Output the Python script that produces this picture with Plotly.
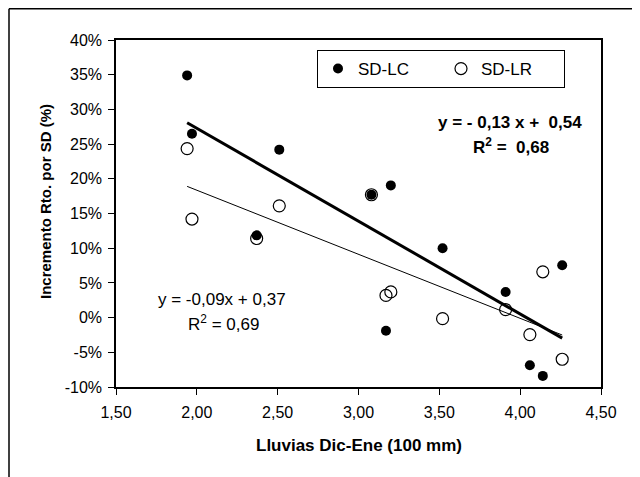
import numpy as np
import plotly.graph_objects as go

# ---- data ----
lluvias = [1.94, 1.97, 2.37, 2.51, 3.08, 3.20, 3.17, 3.52, 3.91, 4.06, 4.14, 4.26]
sd_lc = [0.349, 0.265, 0.1185, 0.242, 0.177, 0.1905, -0.019, 0.100, 0.037, -0.0687, -0.084, 0.0755]
sd_lr = [0.2435, 0.142, 0.114, 0.161, 0.177, 0.037, 0.032, -0.0015, 0.0115, -0.0245, 0.066, -0.060]

x_ticks = [1.5, 2.0, 2.5, 3.0, 3.5, 4.0, 4.5]
x_ticktext = ["1,50", "2,00", "2,50", "3,00", "3,50", "4,00", "4,50"]
y_ticks = [-0.10, -0.05, 0.0, 0.05, 0.10, 0.15, 0.20, 0.25, 0.30, 0.35, 0.40]
y_ticktext = ["-10%", "-5%", "0%", "5%", "10%", "15%", "20%", "25%", "30%", "35%", "40%"]

FONT = "Arial, Liberation Sans, sans-serif"

# page offset of the figure (default body margin of the html page)
OFF = 8
W, H = 640 - OFF, 477 - OFF
# plot-area geometry in page pixels
L, R, T, B = 116, 601, 40, 387
pw, ph = R - L, B - T


def px(x):
    return (x - L) / pw


def py(y):
    return (B - y) / ph


fig = go.Figure()

# open circles (drawn first so the filled ones sit on top)
fig.add_trace(go.Scatter(
    x=lluvias, y=sd_lr, mode="markers", name="SD-LR", legendrank=2,
    marker=dict(symbol="circle", size=12, color="rgba(255,255,255,0)",
                line=dict(color="black", width=1.2)),
))
fig.add_trace(go.Scatter(
    x=lluvias, y=sd_lc, mode="markers", name="SD-LC", legendrank=1,
    marker=dict(symbol="circle", size=10, color="black",
                line=dict(color="black", width=0)),
))

# linear trendlines fitted from the data
xa = np.array(lluvias)
xr = np.array([xa.min(), xa.max()])
m1, b1 = np.polyfit(xa, np.array(sd_lc), 1)
m2, b2 = np.polyfit(xa, np.array(sd_lr), 1)
fig.add_trace(go.Scatter(x=xr, y=m1 * xr + b1, mode="lines", showlegend=False,
                         line=dict(color="black", width=3)))
fig.add_trace(go.Scatter(x=xr, y=m2 * xr + b2, mode="lines", showlegend=False,
                         line=dict(color="black", width=1)))

axis_common = dict(
    showgrid=False, zeroline=False, showline=True, linecolor="black", linewidth=1.5,
    mirror=True, ticks="outside", ticklen=6, tickwidth=1.2, tickcolor="black",
    tickfont=dict(family=FONT, size=16, color="black"),
)
fig.update_xaxes(range=[1.5, 4.5], tickvals=x_ticks, ticktext=x_ticktext,
                 ticklabelstandoff=4, **axis_common)
fig.update_yaxes(range=[-0.10, 0.40], tickvals=y_ticks, ticktext=y_ticktext,
                 ticklabelstandoff=3, **axis_common)

ann = []
ann.append(dict(text="<b>Lluvias Dic-Ene (100 mm)</b>", x=0.5, y=py(445), xref="paper", yref="paper",
                showarrow=False, font=dict(family=FONT, size=17, color="black"),
                xanchor="center", yanchor="middle"))
ann.append(dict(text="<b>Incremento Rto. por SD (%)</b>", x=px(45), y=py(202), xref="paper", yref="paper",
                showarrow=False, textangle=-90, font=dict(family=FONT, size=15, color="black"),
                xanchor="center", yanchor="middle"))
ann.append(dict(text="<b>y = - 0,13 x +  0,54</b>", x=px(509.5), y=py(122), xref="paper", yref="paper",
                showarrow=False, font=dict(family=FONT, size=17, color="black"),
                xanchor="center", yanchor="middle"))
ann.append(dict(text="<b>R<sup>2</sup> =  0,68</b>", x=px(510.5), y=py(146), xref="paper", yref="paper",
                showarrow=False, font=dict(family=FONT, size=17, color="black"),
                xanchor="center", yanchor="middle"))
ann.append(dict(text="y = -0,09x + 0,37", x=px(222), y=py(299), xref="paper", yref="paper",
                showarrow=False, font=dict(family=FONT, size=17, color="black"),
                xanchor="center", yanchor="middle"))
ann.append(dict(text="R<sup>2</sup> = 0,69", x=px(223), y=py(323), xref="paper", yref="paper",
                showarrow=False, font=dict(family=FONT, size=17, color="black"),
                xanchor="center", yanchor="middle"))

# outer chart-area border (top and left edges visible in the reference)
shapes = [
    dict(type="line", xref="paper", yref="paper", x0=px(9), x1=px(660), y0=py(8.8), y1=py(8.8),
         line=dict(color="black", width=1.5)),
    dict(type="line", xref="paper", yref="paper", x0=px(9), x1=px(9), y0=py(8.8), y1=py(490),
         line=dict(color="black", width=1.5)),
]

fig.update_layout(
    width=W, height=H,
    margin=dict(l=L - OFF, r=(640 - R), t=T - OFF, b=(477 - B)),
    paper_bgcolor="white", plot_bgcolor="white",
    showlegend=True,
    legend=dict(orientation="h", x=px(317), y=py(50), xanchor="left", yanchor="top",
                bordercolor="black", borderwidth=1, bgcolor="white",
                font=dict(family=FONT, size=17, color="black"),
                entrywidth=78, entrywidthmode="pixels", traceorder="normal"),
    annotations=ann, shapes=shapes,
)

fig.write_html("out.html")
